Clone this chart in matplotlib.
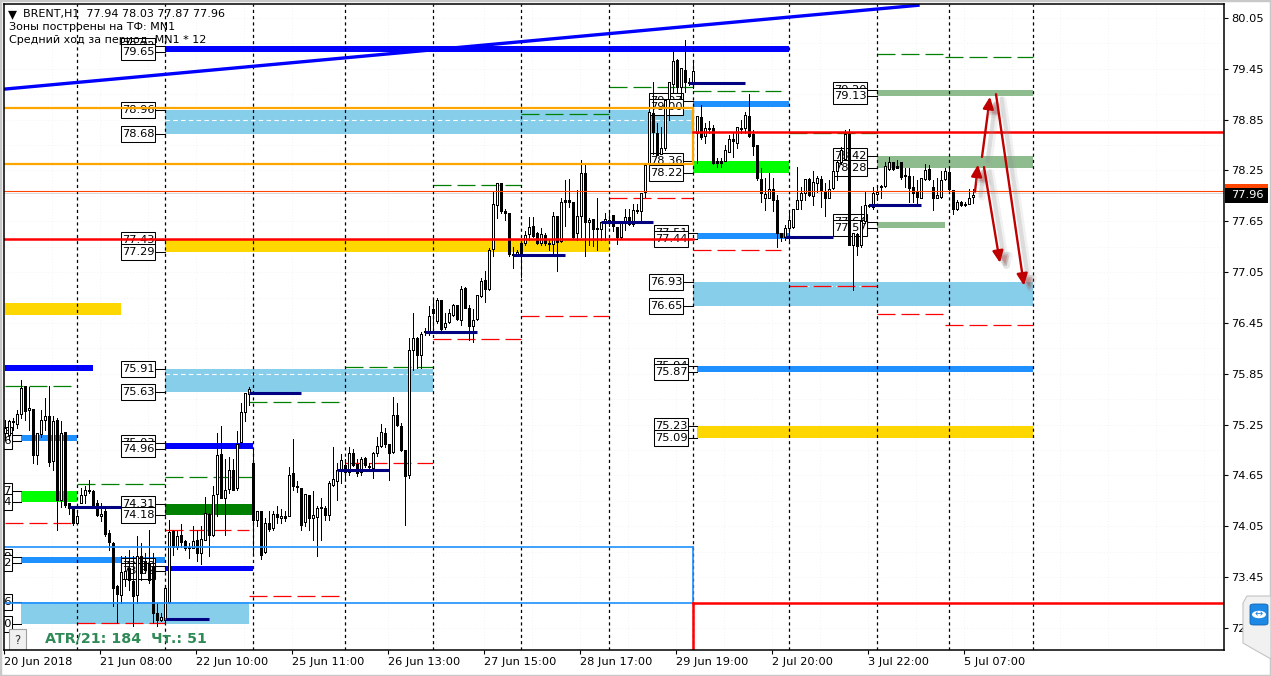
import matplotlib
matplotlib.use('Agg')
import matplotlib.pyplot as plt
import matplotlib.patheffects as pe
from matplotlib.patches import Rectangle, Polygon, FancyBboxPatch
import numpy as np

W, H = 1271, 676

# BRENT H1 candles
opens = [75.15,75.13,75.29,75.26,75.37,75.71,75.42,75.44,74.89,75.14,
75.31,75.35,74.82,75.30,74.36,75.16,74.32,74.27,74.09,74.33,
74.42,74.48,74.47,74.32,74.17,74.23,73.97,73.85,73.35,73.24,
73.43,73.56,73.40,73.24,73.70,73.64,73.62,73.58,73.03,72.94,
72.94,73.16,73.99,73.81,73.95,73.88,73.80,73.79,73.89,73.73,
73.89,74.20,73.95,74.43,74.90,74.38,74.49,74.72,74.50,75.05,
75.40,75.61,74.80,74.12,74.23,73.75,74.09,74.03,74.19,74.15,
74.17,74.17,74.68,74.53,74.50,74.10,74.42,74.15,74.16,74.28,
74.27,74.18,74.54,74.59,74.72,74.77,74.69,74.92,74.78,74.69,
74.86,74.76,74.74,74.91,75.00,75.15,75.02,74.93,75.36,75.23,
74.95,74.65,76.13,76.27,76.07,76.34,76.33,76.61,76.47,76.72,
76.40,76.46,76.54,76.66,76.49,76.86,76.63,76.41,76.50,76.77,
76.96,76.85,77.32,77.84,78.10,77.77,77.75,77.26,77.24,77.39,
77.39,77.50,77.59,77.51,77.39,77.49,77.39,77.38,77.71,77.42,
77.90,77.90,77.88,77.51,77.71,78.22,77.64,77.68,77.57,77.56,
77.64,77.63,77.73,77.58,77.47,77.65,77.70,77.62,77.78,77.77,
78.00,78.33,78.93,78.69,78.45,78.51,79.09,79.27,79.55,79.24,
79.44,79.29,79.28,78.69,78.88,78.66,78.75,78.75,78.36,78.36,
78.36,78.47,78.62,78.58,78.75,78.75,78.89,78.68,78.55,78.15,
77.93,77.92,78.03,77.90,77.51,77.46,77.57,77.58,77.79,77.90,
77.98,78.15,77.95,78.10,78.15,78.01,77.93,78.04,78.24,78.35,
78.39,78.68,77.37,77.50,77.37,77.65,77.84,77.82,77.97,78.07,
78.07,78.27,78.35,78.30,78.35,78.20,78.19,78.05,78.00,77.93,
78.15,78.27,78.06,77.93,77.94,78.15,78.23,78.02,77.80,77.88,
77.84,77.86,77.94]
closes = [75.21,75.29,75.28,75.37,75.68,75.41,75.45,74.89,75.15,75.31,
75.35,74.81,75.29,74.36,75.15,74.30,74.27,74.09,74.17,74.42,
74.48,74.47,74.30,74.18,74.20,73.96,73.86,73.32,73.25,73.51,
73.52,73.42,73.23,73.70,73.50,73.54,73.42,73.03,72.95,72.98,
73.32,73.98,73.81,73.94,73.86,73.79,73.79,73.88,73.74,73.90,
74.21,73.95,74.42,74.89,74.39,74.48,74.72,74.48,75.02,75.40,
75.62,75.67,74.12,74.23,73.71,74.09,74.02,74.19,74.16,74.17,
74.15,74.66,74.53,74.51,74.07,74.43,74.15,74.18,74.27,74.27,
74.18,74.56,74.61,74.72,74.83,74.69,74.91,74.77,74.68,74.85,
74.77,74.75,74.92,75.00,75.16,75.02,74.92,75.36,75.24,74.95,
74.64,76.13,76.27,76.07,76.32,76.36,76.53,76.57,76.72,76.38,
76.45,76.57,76.66,76.50,76.85,76.63,76.42,76.49,76.78,76.95,
76.85,77.31,77.85,78.10,77.77,77.75,77.26,77.25,77.29,77.24,
77.49,77.58,77.48,77.39,77.50,77.39,77.38,77.71,77.41,77.88,
77.88,77.88,77.47,77.71,78.22,77.64,77.66,77.56,77.56,77.64,
77.68,77.67,77.59,77.46,77.65,77.70,77.62,77.78,77.77,77.98,
78.32,78.94,78.70,78.43,78.52,79.08,79.29,79.54,79.24,79.46,
79.29,79.28,79.42,78.89,78.65,78.75,78.74,78.34,78.34,78.34,
78.49,78.62,78.60,78.76,78.74,78.91,78.66,78.54,78.16,77.98,
77.97,78.03,77.90,77.51,77.46,77.57,77.66,77.79,77.90,77.98,
78.15,77.96,78.11,78.16,78.02,77.93,78.03,78.24,78.35,78.49,
78.68,77.37,77.51,77.36,77.65,77.84,77.83,77.98,78.00,78.06,
78.30,78.35,78.27,78.28,78.17,78.19,78.04,77.98,77.94,78.16,
78.26,78.15,77.93,77.96,78.14,78.24,78.03,77.80,77.88,77.84,
77.86,77.92,77.96]
highs = [75.31,75.31,75.33,75.42,75.78,75.71,75.70,75.44,75.15,75.42,
75.56,75.71,75.35,75.33,75.29,75.16,74.32,74.28,74.21,74.50,
74.52,74.60,74.48,74.36,74.32,74.28,74.01,73.87,73.36,73.70,
73.70,73.77,73.70,73.93,73.85,73.73,74.01,73.73,73.15,73.03,
73.34,74.13,74.01,73.99,74.08,73.89,73.85,74.05,74.01,74.05,
74.40,74.21,74.52,75.15,75.23,74.85,74.87,74.85,75.17,75.50,
75.62,75.69,74.97,74.23,74.23,74.15,74.23,74.23,74.29,74.25,
74.23,74.75,75.08,74.58,74.50,74.43,74.42,74.47,74.29,74.38,
74.29,74.58,74.99,74.80,74.90,74.84,74.99,74.96,74.84,74.87,
74.87,74.80,74.93,75.11,75.26,75.21,75.02,75.58,75.50,75.27,
74.95,76.27,76.57,76.29,76.34,76.39,76.65,76.74,76.74,76.72,
76.57,76.61,76.67,76.66,76.89,76.88,76.66,76.61,76.78,76.98,
77.06,77.33,78.00,78.10,78.10,77.79,77.75,77.35,77.31,77.39,
77.54,77.70,77.70,77.52,77.57,77.51,77.44,77.76,77.71,77.92,
78.14,78.15,77.88,78.02,78.37,78.32,77.69,77.68,77.92,77.64,
77.75,77.75,77.73,77.58,77.65,77.80,77.79,77.86,77.86,77.98,
78.32,78.94,79.29,78.81,78.76,79.09,79.29,79.67,79.57,79.46,
79.79,79.34,79.52,78.89,79.02,78.81,78.83,78.79,78.40,78.40,
78.55,78.67,78.71,78.76,78.85,78.94,79.15,78.73,78.55,78.28,
78.16,78.22,78.16,77.96,77.51,77.61,77.75,77.79,78.29,78.06,
78.15,78.16,78.24,78.19,78.18,78.10,78.14,78.26,78.37,78.53,
78.73,78.74,77.51,77.51,77.83,78.00,77.86,78.06,78.06,78.08,
78.35,78.41,78.35,78.37,78.35,78.28,78.28,78.18,78.14,78.16,
78.33,78.32,78.14,78.16,78.24,78.28,78.28,78.02,77.90,77.89,
77.88,78.03,78.03]
lows = [75.07,75.07,75.19,75.21,75.33,75.31,75.19,74.80,74.78,75.11,
75.19,74.76,74.72,74.01,74.28,74.28,74.19,74.06,74.09,74.32,
74.32,74.44,74.30,74.17,74.11,73.93,73.77,73.11,72.91,73.15,
73.34,73.30,72.87,73.15,73.42,73.50,73.38,72.91,72.87,72.93,
72.92,73.15,73.71,73.78,73.81,73.77,73.68,73.79,73.64,73.60,
73.89,73.70,73.93,74.17,74.38,73.95,74.44,74.48,74.48,74.99,
75.29,75.48,73.74,74.05,73.66,73.73,73.99,74.01,74.09,74.09,
74.11,74.17,74.48,74.46,74.01,74.05,74.01,73.89,73.70,73.89,
74.13,74.13,74.52,74.36,74.56,74.60,74.66,74.76,74.64,74.66,
74.75,74.72,74.62,74.88,74.99,74.99,74.60,74.92,75.23,74.94,
74.07,74.62,75.90,75.92,75.92,76.31,76.31,76.33,76.45,76.37,
76.38,76.45,76.53,76.49,76.43,76.63,76.25,76.23,76.48,76.76,
76.70,76.84,77.24,77.69,77.75,77.67,77.24,77.10,77.24,76.99,
77.37,77.43,77.47,77.38,77.37,77.37,77.31,77.27,77.06,77.41,
77.59,77.82,77.45,77.43,77.47,77.24,77.37,77.36,77.31,77.43,
77.43,77.59,77.53,77.38,77.45,77.55,77.61,77.60,77.75,77.65,
77.94,78.32,78.45,78.43,78.45,78.49,78.85,79.16,79.16,79.10,
79.18,79.26,79.22,78.34,78.62,78.57,78.69,78.33,78.29,78.29,
78.36,78.47,78.41,78.51,78.69,78.69,78.65,78.43,78.14,77.88,
77.78,77.92,77.77,77.35,77.42,77.43,77.43,77.57,77.79,77.80,
77.90,77.95,77.84,78.00,77.82,77.71,77.93,78.03,78.14,78.33,
78.37,77.37,76.84,77.25,77.35,77.63,77.82,77.80,77.90,77.92,
78.06,78.26,78.26,78.28,78.15,78.06,77.88,77.88,77.86,77.92,
78.14,78.14,77.78,77.92,77.93,78.14,78.02,77.74,77.78,77.83,
77.83,77.85,77.87]

# day separators, as bar numbers
separators = [18, 40, 62, 85, 107, 129, 151, 172, 196, 218, 236, 257]

# price levels on the right
price_ticks = [80.05, 79.45, 78.85, 78.25, 77.65, 77.05, 76.45, 75.85, 75.25, 74.65, 74.05, 73.45, 72.85]
time_labels = ['20 Jun 2018', '21 Jun 08:00', '22 Jun 10:00', '25 Jun 11:00', '26 Jun 13:00', '27 Jun 15:00',
               '28 Jun 17:00', '29 Jun 19:00', '2 Jul 20:00', '3 Jul 22:00', '5 Jul 07:00']

# zones: first bar, last bar, low, high
gold_zones = [(40, 151, 77.29, 77.43), (0, 29, 76.55, 76.69), (173, 257, 75.09, 75.23)]
sky_zones = [(40, 172, 78.68, 78.96), (40, 107, 75.63, 75.91), (172, 257, 76.65, 76.93), (4, 61, 72.90, 73.16)]
dodger_zones = [(172, 196, 79.00, 79.07), (173, 196, 77.44, 77.51), (173, 257, 75.87, 75.94),
                (4, 18, 75.06, 75.13), (4, 40, 73.62, 73.69)]
blue_zones = [(40, 196, 79.65, 79.72), (0, 22, 75.88, 75.95), (40, 62, 74.96, 75.03), (40, 62, 73.52, 73.58)]
lime_zones = [(4, 18, 74.34, 74.47), (172, 196, 78.22, 78.36)]
green_zones = [(40, 62, 74.18, 74.31)]
pale_zones = [(218, 257, 79.13, 79.20), (218, 257, 78.28, 78.42), (218, 235, 77.57, 77.64)]

# small dashes inside the sky zones: first bar, last bar, price
white_dashes = [(40, 172, 78.85), (40, 107, 75.85), (196, 218, 76.89)]
# navy levels
navy_levels = [(16, 29, 74.28), (40, 51, 72.96), (61, 74, 75.62), (83, 96, 74.72), (105, 118, 76.34),
               (127, 140, 77.25), (149, 162, 77.64), (171, 185, 79.28), (195, 207, 77.46), (216, 229, 77.84)]
green_dashes = [(0, 16.5, 75.71), (18, 40, 74.55), (40, 62, 74.63), (61, 84, 75.52), (85, 107, 75.93),
                (107, 129, 78.08), (129, 151, 78.92), (151, 172, 79.23), (172, 194, 79.19), (196, 218, 78.69),
                (218, 235, 79.63), (235, 257, 79.59)]
red_dashes = [(0, 18, 74.09), (18, 40, 72.91), (40, 61, 74.01), (61, 84, 73.23), (85, 107, 74.80),
              (107, 129, 76.26), (129, 151, 76.53), (151, 172, 77.93), (172, 194, 77.31), (196, 218, 76.89),
              (218, 235, 76.56), (235, 257, 76.43)]

# boxed labels: bar where the tick ends, price, box centre bar
box_labels = [(40, 79.72, 33.25), (40, 79.65, 33.25), (40, 78.96, 33.25), (40, 78.68, 33.25), (40, 77.43, 33.25),
              (40, 77.29, 33.25), (40, 75.91, 33.25), (40, 75.63, 33.25), (40, 75.03, 33.25), (40, 74.96, 33.25),
              (40, 74.31, 33.25), (40, 74.18, 33.25), (40, 73.58, 33.25), (40, 73.52, 33.25),
              (172, 79.07, 165.25), (172, 79.00, 165.25), (172, 78.36, 165.25), (172, 78.22, 165.25),
              (173, 77.51, 166.5), (173, 77.44, 166.5), (172, 76.93, 165.25), (172, 76.65, 165.25),
              (173, 75.94, 166.5), (173, 75.87, 166.5), (173, 75.23, 166.5), (173, 75.09, 166.5),
              (218, 79.20, 211.25), (218, 79.13, 211.25), (218, 78.42, 211.25), (218, 78.28, 211.25),
              (218, 77.64, 211.25), (218, 77.57, 211.25),
              (4, 75.13, -2.5), (4, 75.06, -2.5), (4, 74.47, -2.5), (4, 74.34, -2.5), (4, 73.69, -2.5),
              (4, 73.62, -2.5), (4, 73.16, -2.5), (4, 72.90, -2.5)]

# forecast arrows: from bar, from price, to bar, to price
arrows = [(242.5, 78.00, 243.25, 78.32), (244.25, 78.41, 246.25, 79.12),
          (244.75, 78.29, 248.75, 77.16), (247.75, 79.15, 254.75, 76.89)]

plt.rcParams['font.family'] = ['DejaVu Sans']
fig = plt.figure(figsize=(W / 100, H / 100), dpi=100, facecolor='white')
ax = fig.add_axes([4 / W, 1 - 650 / H, 1220 / W, 646 / H])
ax.set_xlim(-0.25, 304.75)
ax.set_ylim(72.59, 80.215)

# faint grid
for yy in np.arange(72.85, 80.2, 0.3):
    ax.axhline(yy, color='#f3f3f3', lw=0.7, ls=(0, (1, 2)), zorder=0)
for xx in np.arange(-0.25, 304, 12):
    ax.axvline(xx, color='#f3f3f3', lw=0.7, ls=(0, (1, 2)), zorder=0)

for zones, col in [(gold_zones, '#FFD700'), (sky_zones, '#87CEEB'), (dodger_zones, '#1E90FF'), (blue_zones, '#0000FF'),
                   (lime_zones, '#00FF00'), (green_zones, '#008000'), (pale_zones, '#8FBC8F')]:
    for x0, x1, lo, hi in zones:
        ax.add_patch(Rectangle((x0, lo), x1 - x0, hi - lo, facecolor=col, edgecolor='none', zorder=1))

for x0, x1, yy in white_dashes:
    ax.plot([x0, x1], [yy, yy], color='white', lw=0.8, ls=(0, (4, 3)), zorder=1.2)

for x0, x1, yy in green_dashes:
    ax.plot([x0, x1], [yy, yy], color='#008000', lw=0.9, ls=(0, (14.4, 4.8)), zorder=1.3)
for x0, x1, yy in red_dashes:
    ax.plot([x0, x1], [yy, yy], color='#FF0000', lw=0.9, ls=(0, (14.4, 4.8)), zorder=1.3)

for xx in separators:
    ax.axvline(xx, color='black', lw=0.9, ls=(0, (2.5, 2.5)), zorder=1.4)

# later labels sit on top of earlier ones
for i, (end, price, centre) in enumerate(box_labels):
    z = 1.5 + i * 0.005
    ax.plot([centre, end], [price, price], color='black', lw=0.75, zorder=z)
    ax.add_patch(Rectangle((centre - 4.15, price - 0.094), 8.3, 0.188, facecolor='white', edgecolor='black', lw=0.75, zorder=z + 0.001))
    ax.text(centre, price, f'{price:.2f}', ha='center', va='center', fontsize=8.2, color='black', clip_on=True, zorder=z + 0.002)

# candles
bars = np.arange(len(opens))
o = np.array(opens)
c = np.array(closes)
ax.vlines(bars, lows, highs, color='black', lw=0.5, zorder=2, antialiased=False)
up = c >= o
ax.bar(bars[up], c[up] - o[up], bottom=o[up], width=0.5, facecolor='white', edgecolor='black', lw=0.5, zorder=2.1, antialiased=False)
ax.bar(bars[~up], o[~up] - c[~up], bottom=c[~up], width=0.5, facecolor='black', edgecolor='black', lw=0.5, zorder=2.1, antialiased=False)

for x0, x1, yy in navy_levels:
    ax.plot([x0, x1], [yy, yy], color='#000080', lw=2.2, solid_capstyle='butt', zorder=2.5)

# long levels
ax.plot([-0.25, 172], [78.99, 78.99], color='#FFA500', lw=1.6, zorder=2.6)
ax.plot([-0.25, 172], [78.33, 78.33], color='#FFA500', lw=1.6, zorder=2.6)
ax.plot([172, 172], [78.33, 78.99], color='#FFA500', lw=1.6, zorder=2.6)
ax.plot([-0.25, 172], [77.44, 77.44], color='#FF0000', lw=1.8, zorder=2.6)
ax.plot([172, 304.75], [78.70, 78.70], color='#FF0000', lw=1.8, zorder=2.6)
ax.plot([-0.25, 172], [73.81, 73.81], color='#1E90FF', lw=1.2, zorder=2.6)
ax.plot([-0.25, 172], [73.15, 73.15], color='#1E90FF', lw=1.2, zorder=2.6)
ax.plot([172, 172], [73.15, 73.81], color='#1E90FF', lw=1.2, zorder=2.6)
ax.plot([172, 304.75], [73.14, 73.14], color='#FF0000', lw=1.8, zorder=2.6)
ax.plot([172, 172], [72.59, 73.14], color='#FF0000', lw=1.8, zorder=2.6)
ax.axhline(78.01, color='#FF4500', lw=0.8, zorder=2.6)
ax.axhline(77.99, color='#d8d8d8', lw=0.7, zorder=0.5)
ax.plot([-0.25, 228.25], [79.21, 80.20], color='#0000FF', lw=2.4, zorder=2.7)

for x0, y0, x1, y1 in arrows:
    ann = ax.annotate('', xy=(x1, y1), xytext=(x0, y0), zorder=3,
                      arrowprops=dict(arrowstyle='-|>,head_length=0.7,head_width=0.32', color='#C00000', lw=1.7,
                                      shrinkA=0, shrinkB=0))
    ann.arrow_patch.set_path_effects([pe.Stroke(linewidth=5, foreground='#999999', alpha=0.13, offset=(5, -4)),
                                      pe.Stroke(linewidth=3, foreground='#888888', alpha=0.2, offset=(4, -3)),
                                      pe.Normal()])

# header text
ax.text(3.5 / 1220, 1 - 10.5 / 646, '\u25be', transform=ax.transAxes, fontsize=13, va='center', ha='left', zorder=5)
ax.text(19 / 1220, 1 - 10.5 / 646, 'BRENT,H1  77.94 78.03 77.87 77.96', transform=ax.transAxes, fontsize=8, va='center', zorder=5)
ax.text(5 / 1220, 1 - 23.5 / 646, 'Зоны построены на ТФ: MN1', transform=ax.transAxes, fontsize=8, va='center', zorder=5)
ax.text(5 / 1220, 1 - 36 / 646, 'Средний ход за период: MN1 * 12', transform=ax.transAxes, fontsize=8, va='center', zorder=5)
ax.text(41 / 1220, 11 / 646, 'ATR/21: 184  Чт.: 51', transform=ax.transAxes, fontsize=10.3, fontweight='bold',
        color='#2E8B57', va='center', zorder=5)

# help button
ax.add_patch(Rectangle((4.5 / 1220, 0), 17 / 1220, 21 / 646, transform=ax.transAxes, facecolor='#f0f0f0',
                       edgecolor='#a0a0a0', lw=0.8, zorder=4))
ax.text(13 / 1220, 10 / 646, '?', transform=ax.transAxes, ha='center', va='center', fontsize=8.5, color='#333333', zorder=5)

# axes
for side in ax.spines.values():
    side.set_linewidth(1.1)
    side.set_color('black')
    side.set_zorder(6)
ax.yaxis.tick_right()
ax.set_yticks(price_ticks)
ax.set_yticklabels([f'{p:.2f}' for p in price_ticks], fontsize=8.2)
ax.set_xticks(np.arange(len(time_labels)) * 24 - 0.25)
ax.set_xticklabels(time_labels, fontsize=8.2, ha='left')
ax.tick_params(axis='both', length=3, width=0.8, pad=2, color='black')

# current price box on the axis
fig.add_artist(Rectangle((1225 / W, 1 - 190 / H), 43 / W, 6 / H, transform=fig.transFigure, facecolor='#FF4500', edgecolor='none', zorder=4))
fig.add_artist(Rectangle((1225 / W, 1 - 203 / H), 43 / W, 15 / H, transform=fig.transFigure, facecolor='black', edgecolor='none', zorder=4))
fig.text(1231 / W, 1 - 195.5 / H, '77.96', color='white', fontsize=8.2, va='center', zorder=5)

# window edges
fig.add_artist(Rectangle((0, 0), 1, 1, transform=fig.transFigure, facecolor='none', edgecolor='#c8c8c8', lw=2.5, zorder=7))

# remote control widget in the corner
fig.add_artist(Polygon([(1243 / W, 1 - 603 / H), (1247 / W, 1 - 596 / H), (1271 / W, 1 - 596 / H), (1271 / W, 1 - 659 / H),
                        (1255 / W, 1 - 650 / H), (1243 / W, 1 - 643 / H)], closed=True, transform=fig.transFigure,
                       facecolor='#f1f1f1', edgecolor='#c4c4c4', lw=0.8, zorder=8))
fig.add_artist(FancyBboxPatch((1250 / W, 1 - 625 / H), 18 / W, 21 / H, boxstyle='round,pad=0,rounding_size=0.003',
                              transform=fig.transFigure, facecolor='#1e88e5', edgecolor='#0e64b4', lw=0.6, zorder=9))
fig.add_artist(plt.Circle((1259 / W, 1 - 614.5 / H), 0.0055, transform=fig.transFigure, facecolor='white', edgecolor='none', zorder=10))
fig.text(1259 / W, 1 - 614.5 / H, '\u2194', color='#1e88e5', fontsize=7, ha='center', va='center', zorder=11)

fig.savefig('out.png', dpi=100)
